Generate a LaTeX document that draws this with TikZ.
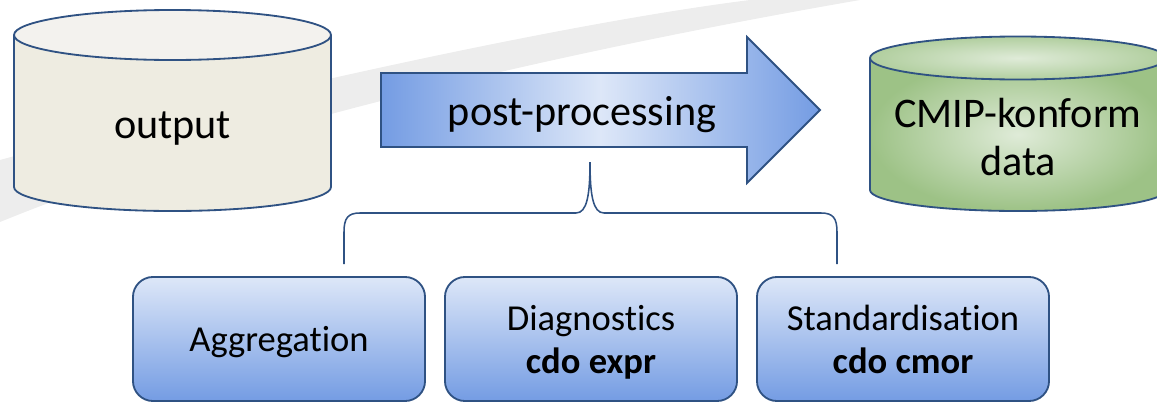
\documentclass[tikz,border=0pt]{standalone}
\usepackage{fontspec}
\setmainfont{Carlito}[Ligatures=NoCommon]
\usetikzlibrary{calc}
\definecolor{rim}{HTML}{2F5283}
\definecolor{tanfill}{HTML}{EEECE1}
\definecolor{tantop}{HTML}{F3F2EE}
\definecolor{greenin}{HTML}{DFEBD8}
\definecolor{greenout}{HTML}{9DC286}
\definecolor{bluedark}{HTML}{749CE3}
\definecolor{bluelight}{HTML}{DDE7F8}
\definecolor{swooshgrey}{HTML}{EDEDED}
\newcommand{\bigtext}{\fontsize{30}{34}\selectfont}
\newcommand{\boxtext}{\fontsize{26}{30.5}\selectfont}

\begin{document}
\begin{tikzpicture}
[
x=0.025cm, y=-0.025cm,
rim line/.style  = {draw=rim, line width=1.3pt},
swoosh/.style    = {fill=swooshgrey},
label/.style     = {font=\bigtext, align=center, inner sep=0pt},
task/.style      = {rim line, rounded corners=0.5cm, top color=bluelight, bottom color=bluedark,
                    minimum width=7.3cm, minimum height=3.1cm, align=center, font=\boxtext, text depth=-1pt},
]
\useasboundingbox (0,0) rectangle (1157,402);
\fill[swoosh] (0,160) .. controls (200,105) and (550,25) .. (750,0) -- (860,0)
  .. controls (600,45) and (250,120) .. (0,222) -- cycle;

% output drum
\fill[tanfill] (14,35) -- (14,187) arc[start angle=180, end angle=0, x radius=158.5, y radius=24] -- (331,35) -- cycle;
\draw[rim line] (14,35) -- (14,187) arc[start angle=180, end angle=0, x radius=158.5, y radius=24] -- (331,35);
\filldraw[rim line, fill=tantop] (172.5,35) ellipse [x radius=158.5, y radius=25];
\node[label] (output) at (172.5,129) {output};

% post-processing arrow
\shade[rim line, left color=bluedark, right color=bluedark, middle color=bluelight]
  (381,73) -- (747,73) -- (747,37) -- (820,110) -- (747,183) -- (747,147) -- (381,147) -- cycle;
\node[label] (post) at (582,115) {post-processing};

% CMIP data drum
\shade[inner color=greenin, outer color=greenout] (870,58) -- (870,190) arc[start angle=180, end angle=0, x radius=148, y radius=21] -- (1166,58) -- cycle;
\draw[rim line] (870,58) -- (870,190) arc[start angle=180, end angle=0, x radius=148, y radius=21] -- (1166,58);
\shade[rim line, inner color=greenin, outer color=greenout!70!greenin] (1018,58) ellipse [x radius=148, y radius=21.5];
\node[label] (cmip) at (1018,137) {CMIP-konform\\data};

% tasks
\node[task] (aggr) at (279,339) {Aggregation};
\node[task] (diag) at (591,339) {Diagnostics\\\textbf{cdo expr}};
\node[task] (stand) at (903,339) {Standardisation\\\textbf{cdo cmor}};

% brace
\coordinate (braceL) at (344,264);
\coordinate (braceT) at (590,162);
\coordinate (braceR) at (837,264);
\draw[rim line, line width=1.1pt] (braceL) -- (344,232) .. controls (344,218) and (348,213) .. (360,213) -- (576,213)
  .. controls (587,213) and (590,195) .. (braceT) .. controls (590,195) and (593,213) .. (604,213) -- (821,213)
  .. controls (833,213) and (837,218) .. (837,232) -- (braceR);
\end{tikzpicture}
\end{document}
